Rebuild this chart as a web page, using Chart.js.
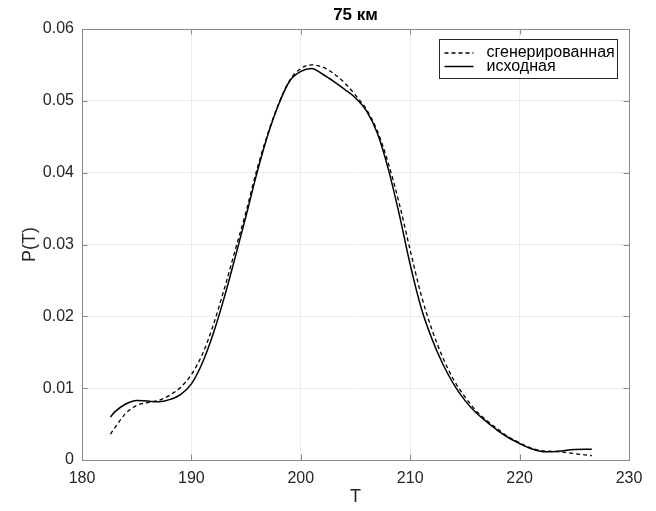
<!DOCTYPE html>
<html>
<head>
<meta charset="utf-8">
<script src="https://cdn.jsdelivr.net/npm/chart.js"></script>
<style>
  html, body { margin: 0; padding: 0; background: #fff; }
  #box { width: 656px; height: 511px; }
</style>
</head>
<body>
<div id="box"><canvas id="c"></canvas></div>
<script>
// Значения
const tValues = [182.6, 183, 184, 185, 186, 187, 188, 189, 190, 191, 192, 193, 194, 195, 196, 197, 198, 199, 200, 201, 202, 203, 204, 205, 206, 207, 208, 209, 210, 211, 212, 213, 214, 215, 216, 217, 218, 219, 220, 221, 222, 223, 224, 225, 226, 226.6];
const generated = [0.0036, 0.0045, 0.0065, 0.0076, 0.0080, 0.0083, 0.0090, 0.0101, 0.0119, 0.0147, 0.0188, 0.0238, 0.0292, 0.0346, 0.0405, 0.0455, 0.0497, 0.0529, 0.0545, 0.0550, 0.0547, 0.0538, 0.0525, 0.0508, 0.0488, 0.0458, 0.0413, 0.0357, 0.0292, 0.0230, 0.0181, 0.0142, 0.0111, 0.0088, 0.0069, 0.0055, 0.0043, 0.0032, 0.0024, 0.0017, 0.0013, 0.0012, 0.0011, 0.0009, 0.0007, 0.0006];
const original = [0.0060, 0.0067, 0.0078, 0.0083, 0.0082, 0.0081, 0.0084, 0.0091, 0.0106, 0.0135, 0.0176, 0.0226, 0.0282, 0.0340, 0.0400, 0.0453, 0.0496, 0.0528, 0.0541, 0.0545, 0.0537, 0.0527, 0.0516, 0.0504, 0.0486, 0.0455, 0.0405, 0.0342, 0.0272, 0.0212, 0.0168, 0.0133, 0.0105, 0.0083, 0.0066, 0.0053, 0.0041, 0.0031, 0.0023, 0.0016, 0.0012, 0.00115, 0.0013, 0.00145, 0.0015, 0.0015];
const seriesNames = ['сгенерированная', 'исходная'];
const xTicks = [180, 190, 200, 210, 220, 230];
const yTicks = [0, 0.01, 0.02, 0.03, 0.04, 0.05, 0.06];
const chartTitle = '75 км';

const textColor = '#262626';
const axisColor = '#8a8a8a';
const fontFamily = '"Liberation Sans", Arial, sans-serif';

function toPoints(ys) {
  return tValues.map((t, i) => ({ x: t, y: ys[i] }));
}

// Засечки внутрь, рамка, заголовок и легенда в стиле MATLAB
const matlabPlugin = {
  id: 'matlabStyle',
  afterDatasetsDraw(chart) {
    const ctx = chart.ctx;
    const a = chart.chartArea;
    const xs = chart.scales.x, ys = chart.scales.y;
    const len = 5.5;
    ctx.save();
    ctx.strokeStyle = axisColor;
    ctx.lineWidth = 1;
    ctx.beginPath();
    xTicks.forEach(v => {
      const px = Math.round(xs.getPixelForValue(v)) + 0.5;
      ctx.moveTo(px, a.bottom); ctx.lineTo(px, a.bottom - len);
      ctx.moveTo(px, a.top); ctx.lineTo(px, a.top + len);
    });
    yTicks.forEach(v => {
      const py = Math.round(ys.getPixelForValue(v)) + 0.5;
      ctx.moveTo(a.left, py); ctx.lineTo(a.left + len, py);
      ctx.moveTo(a.right, py); ctx.lineTo(a.right - len, py);
    });
    ctx.stroke();
    ctx.strokeRect(Math.round(a.left) + 0.5, Math.round(a.top) + 0.5,
      Math.round(a.right - a.left), Math.round(a.bottom - a.top));

    // заголовок
    ctx.fillStyle = '#000';
    ctx.font = 'bold 17px ' + fontFamily;
    ctx.textAlign = 'center';
    ctx.textBaseline = 'middle';
    ctx.fillText(chartTitle, (a.left + a.right) / 2, 15);

    // легенда
    const bx = 439.5, by = 39.5, bw = 178, bh = 39;
    ctx.fillStyle = '#fff';
    ctx.fillRect(bx, by, bw, bh);
    ctx.strokeStyle = '#262626';
    ctx.strokeRect(bx, by, bw, bh);
    const rows = [by + 13.5, by + 27];
    chart.data.datasets.forEach((ds, i) => {
      ctx.strokeStyle = ds.borderColor;
      ctx.lineWidth = ds.borderWidth;
      ctx.setLineDash(ds.borderDash || []);
      ctx.beginPath();
      ctx.moveTo(bx + 5, rows[i]);
      ctx.lineTo(bx + 34, rows[i]);
      ctx.stroke();
      ctx.setLineDash([]);
      ctx.fillStyle = '#000';
      ctx.font = '16px ' + fontFamily;
      ctx.textAlign = 'left';
      ctx.textBaseline = 'middle';
      ctx.fillText(ds.label, bx + 47, rows[i]);
    });
    ctx.restore();
  }
};

const ctx = document.getElementById('c').getContext('2d');
new Chart(ctx, {
  type: 'line',
  data: {
    datasets: [
      {
        label: seriesNames[0],
        data: toPoints(generated),
        borderColor: '#000',
        borderWidth: 1.3,
        borderDash: [4, 3],
        pointRadius: 0,
        fill: false,
        cubicInterpolationMode: 'monotone'
      },
      {
        label: seriesNames[1],
        data: toPoints(original),
        borderColor: '#000',
        borderWidth: 1.5,
        pointRadius: 0,
        fill: false,
        cubicInterpolationMode: 'monotone'
      }
    ]
  },
  options: {
    responsive: true,
    maintainAspectRatio: false,
    animation: false,
    layout: { padding: { left: 0, right: 27, top: 29, bottom: 0 } },
    plugins: {
      legend: { display: false },
      tooltip: { enabled: false },
      title: { display: false }
    },
    scales: {
      x: {
        type: 'linear',
        min: 180,
        max: 230,
        afterBuildTicks: s => { s.ticks = xTicks.map(v => ({ value: v })); },
        afterFit: s => { s.height = 51; },
        grid: { color: '#ebebeb', drawTicks: false },
        border: { display: false },
        ticks: {
          color: textColor,
          padding: 9,
          font: { family: fontFamily, size: 16 }
        },
        title: {
          display: true,
          text: 'T',
          color: textColor,
          font: { family: fontFamily, size: 18 },
          padding: { top: 0, bottom: 3 }
        }
      },
      y: {
        type: 'linear',
        min: 0,
        max: 0.06,
        afterBuildTicks: s => { s.ticks = yTicks.map(v => ({ value: v })); },
        afterFit: s => { s.width = 82; },
        grid: { color: '#ebebeb', drawTicks: false },
        border: { display: false },
        ticks: {
          color: textColor,
          padding: 8,
          font: { family: fontFamily, size: 16 },
          callback: v => String(Math.round(v * 100) / 100)
        },
        title: {
          display: true,
          text: 'P(T)',
          color: textColor,
          font: { family: fontFamily, size: 18 },
          padding: { top: 19, bottom: 0 }
        }
      }
    }
  },
  plugins: [matlabPlugin]
});
</script>
</body>
</html>
